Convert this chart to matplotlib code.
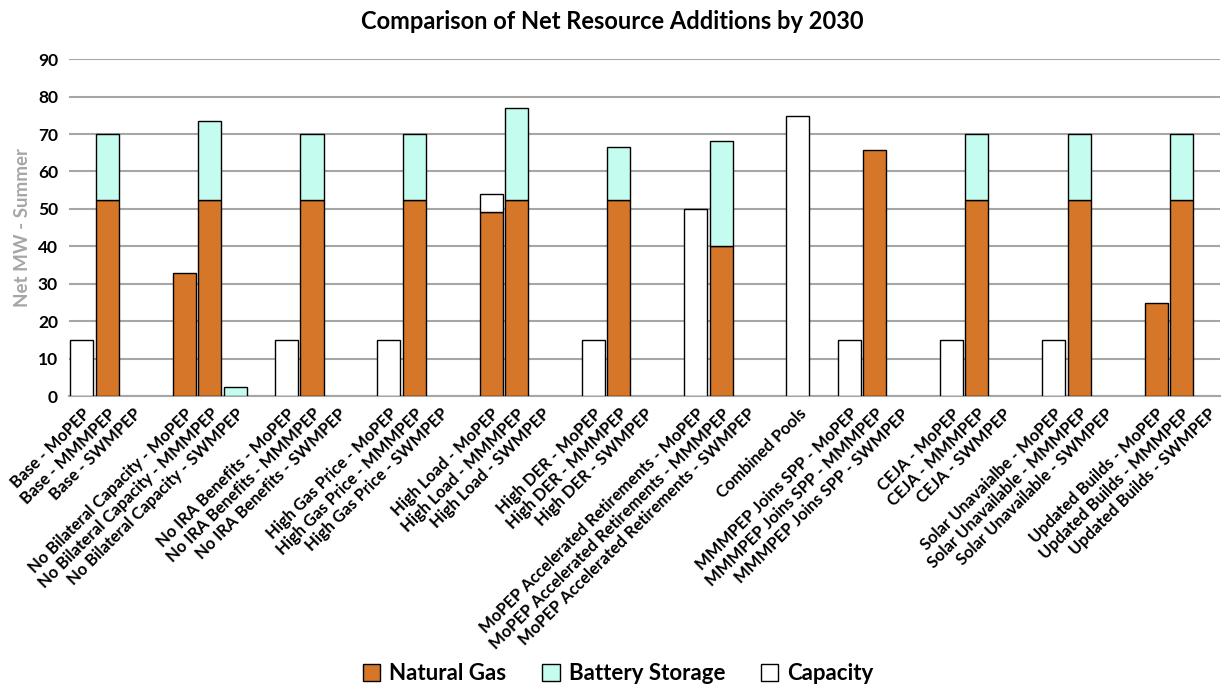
import matplotlib.pyplot as plt
from matplotlib.patches import Patch
import numpy as np

# Category labels (as in the source, including the typo); "" = spacer slot between groups
categories = [
    "Base - MoPEP", "Base - MMMPEP", "Base - SWMPEP", "",
    "No Bilateral Capacity - MoPEP", "No Bilateral Capacity - MMMPEP", "No Bilateral Capacity - SWMPEP", "",
    "No IRA Benefits - MoPEP", "No IRA Benefits - MMMPEP", "No IRA Benefits - SWMPEP", "",
    "High Gas Price - MoPEP", "High Gas Price - MMMPEP", "High Gas Price - SWMPEP", "",
    "High Load - MoPEP", "High Load - MMMPEP", "High Load - SWMPEP", "",
    "High DER - MoPEP", "High DER - MMMPEP", "High DER - SWMPEP", "",
    "MoPEP Accelerated Retirements - MoPEP", "MoPEP Accelerated Retirements - MMMPEP",
    "MoPEP Accelerated Retirements - SWMPEP", "",
    "Combined Pools", "",
    "MMMPEP Joins SPP - MoPEP", "MMMPEP Joins SPP - MMMPEP", "MMMPEP Joins SPP - SWMPEP", "",
    "CEJA - MoPEP", "CEJA - MMMPEP", "CEJA - SWMPEP", "",
    "Solar Unavaialbe - MoPEP", "Solar Unavailable - MMMPEP", "Solar Unavailable - SWMPEP", "",
    "Updated Builds - MoPEP", "Updated Builds - MMMPEP", "Updated Builds - SWMPEP",
]

natural_gas = [0, 52.3, 0, 0,
               32.9, 52.3, 0, 0,
               0, 52.3, 0, 0,
               0, 52.3, 0, 0,
               49.2, 52.3, 0, 0,
               0, 52.3, 0, 0,
               0, 40.0, 0, 0,
               0, 0,
               0, 65.6, 0, 0,
               0, 52.3, 0, 0,
               0, 52.3, 0, 0,
               24.8, 52.3, 0]

battery_storage = [0, 17.7, 0, 0,
                   0, 21.2, 2.4, 0,
                   0, 17.7, 0, 0,
                   0, 17.7, 0, 0,
                   0, 24.6, 0, 0,
                   0, 14.1, 0, 0,
                   0, 28.1, 0, 0,
                   0, 0,
                   0, 0, 0, 0,
                   0, 17.7, 0, 0,
                   0, 17.7, 0, 0,
                   0, 17.7, 0]

capacity = [15, 0, 0, 0,
            0, 0, 0, 0,
            15, 0, 0, 0,
            15, 0, 0, 0,
            4.9, 0, 0, 0,
            15, 0, 0, 0,
            50, 0, 0, 0,
            74.9, 0,
            15, 0, 0, 0,
            15, 0, 0, 0,
            15, 0, 0, 0,
            0, 0, 0]

NG_COLOR = '#D57628'
BS_COLOR = '#C4FCEF'

plt.rcParams['font.family'] = ['Lato', 'DejaVu Sans']
plt.rcParams['font.weight'] = 'bold'

fig = plt.figure(figsize=(12.24, 6.96), dpi=100)
ax = fig.add_axes([0.0564, 0.431, 0.9403, 0.484])

x = np.arange(len(categories))
ng = np.array(natural_gas)
bs = np.array(battery_storage)
cap = np.array(capacity)
w = 0.9

def draw(vals, bottom, color):
    # only draw non-zero segments so empty slots get no outline
    m = vals > 0
    ax.bar(x[m], vals[m], w, bottom=bottom[m], color=color, edgecolor='black',
           linewidth=1.0, zorder=3)

draw(ng, np.zeros_like(ng), NG_COLOR)
draw(bs, ng, BS_COLOR)
draw(cap, ng + bs, 'white')

ax.set_xlim(-0.5, len(categories) - 0.5)
ax.set_ylim(0, 90)
ax.set_yticks(range(0, 91, 10))
ax.yaxis.grid(True, color='#A6A6A6', linewidth=1.5, zorder=0)
ax.set_axisbelow(True)
for s in ['top', 'right', 'left']:
    ax.spines[s].set_visible(False)
ax.spines['bottom'].set_color('#A6A6A6')
ax.spines['bottom'].set_linewidth(1.5)
ax.tick_params(axis='both', length=0)
ax.tick_params(axis='y', labelsize=12.5, pad=8)

ax.set_xticks(x)
ax.set_xticklabels(categories, rotation=45, ha='right', rotation_mode='anchor',
                   fontsize=11.9, fontweight='bold')
ax.tick_params(axis='x', pad=7)

ax.set_ylabel('Net MW - Summer', fontsize=13.5, fontweight='bold', color='#A6A6A6',
              labelpad=5)

fig.suptitle('Comparison of Net Resource Additions by 2030', fontsize=17,
             fontweight='bold', x=0.5, y=0.985)

handles = [Patch(facecolor=NG_COLOR, edgecolor='black', label='Natural Gas'),
           Patch(facecolor=BS_COLOR, edgecolor='black', label='Battery Storage'),
           Patch(facecolor='white', edgecolor='black', label='Capacity')]
fig.legend(handles=handles, loc='lower center', bbox_to_anchor=(0.505, -0.012), ncol=3,
           frameon=False, fontsize=16, handlelength=0.8, handleheight=0.8,
           columnspacing=1.6, handletextpad=0.4)

fig.savefig('out.png', dpi=100)
